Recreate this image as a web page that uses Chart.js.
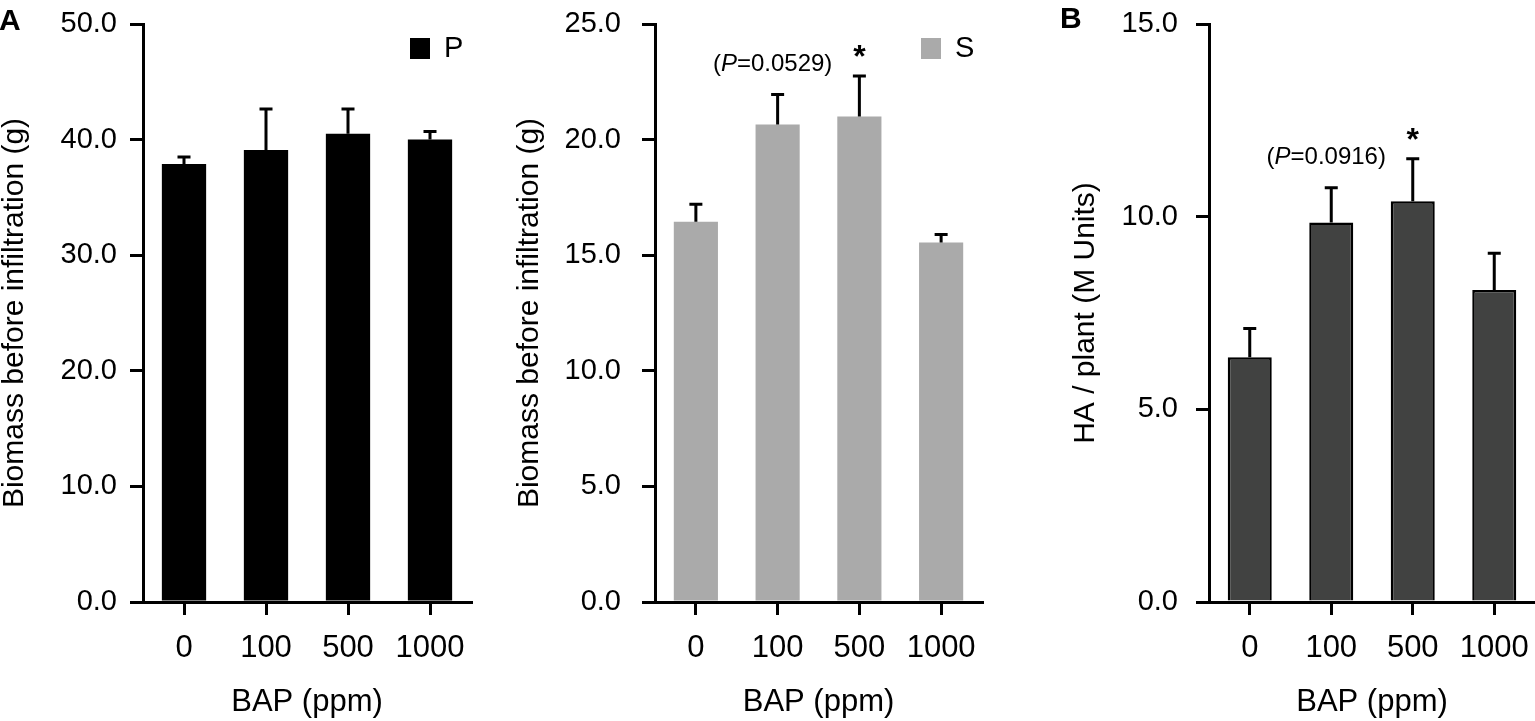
<!DOCTYPE html>
<html>
<head>
<meta charset="utf-8">
<script src="https://cdn.jsdelivr.net/npm/chart.js@4.4.1/dist/chart.umd.min.js"></script>
<style>
    html, body { margin: 0; padding: 0; background: #fff; }
    #wrap {
        position: relative;
        width: 1535px;
        height: 721px;
        overflow: hidden;
        font-family: "Liberation Sans", Arial, sans-serif;
    }
    .panel { position: absolute; top: 0; height: 721px; }
    .letter {
        position: absolute;
        z-index: 5;
        font-family: "Liberation Sans", Arial, sans-serif;
        font-weight: bold;
        font-size: 30px;
        line-height: 30px;
        color: #000;
    }
</style>
</head>
<body>
<div id="wrap">
    <div class="panel" style="left:0;width:490px"><canvas id="chartP"></canvas></div>
    <div class="panel" style="left:500px;width:500px"><canvas id="chartS"></canvas></div>
    <div class="panel" style="left:1050px;width:485px"><canvas id="chartHA"></canvas></div>
    <div class="letter" style="left:-1px;top:5px">A</div>
    <div class="letter" style="left:1060px;top:3px">B</div>
</div>

<script>
    // dati
    const categories = ['0', '100', '500', '1000'];

    const biomassP = [37.9, 39.1, 40.5, 40.0];
    const biomassPErr = [0.6, 3.55, 2.15, 0.7];

    const biomassS = [16.45, 20.65, 21.0, 15.55];
    const biomassSErr = [0.75, 1.3, 1.75, 0.35];
    const pValuesS = ['', '0.0529', '', ''];
    const starsS = ['', '', '*', ''];

    const haPlant = [6.35, 9.85, 10.4, 8.1];
    const haPlantErr = [0.75, 0.9, 1.1, 0.95];
    const pValuesHA = ['', '0.0916', '', ''];
    const starsHA = ['', '', '*', ''];

    const FONT = '"Liberation Sans", Arial, sans-serif';

    // barre di errore (solo verso l'alto)
    const errorBars = {
        id: 'errorBars',
        afterDatasetsDraw(chart) {
            const ctx = chart.ctx;
            const y = chart.scales.y;
            chart.data.datasets.forEach((ds, i) => {
                chart.getDatasetMeta(i).data.forEach((bar, j) => {
                    const top = y.getPixelForValue(ds.data[j] + ds.errors[j]);
                    ctx.save();
                    ctx.strokeStyle = '#000';
                    ctx.lineWidth = 3;
                    ctx.beginPath();
                    ctx.moveTo(bar.x, bar.y);
                    ctx.lineTo(bar.x, top);
                    ctx.moveTo(bar.x - 6.5, top);
                    ctx.lineTo(bar.x + 6.5, top);
                    ctx.stroke();
                    ctx.restore();
                });
            });
        }
    };

    // (P=...) e asterischi sopra le barre
    const marks = {
        id: 'marks',
        afterDatasetsDraw(chart, args, opts) {
            if (!opts.pValues) return;
            const ctx = chart.ctx;
            const y = chart.scales.y;
            const ds = chart.data.datasets[0];
            chart.getDatasetMeta(0).data.forEach((bar, j) => {
                const top = y.getPixelForValue(ds.data[j] + ds.errors[j]);
                ctx.save();
                ctx.fillStyle = '#000';
                ctx.textBaseline = 'middle';
                if (opts.pValues[j]) {
                    const parts = [
                        ['(', ''],
                        ['P', 'italic '],
                        ['=' + opts.pValues[j] + ')', '']
                    ];
                    let w = 0;
                    parts.forEach(p => { ctx.font = p[1] + '24px ' + FONT; w += ctx.measureText(p[0]).width; });
                    let x = bar.x - 5 - w / 2;
                    const cy = top - 30;
                    ctx.textAlign = 'left';
                    parts.forEach(p => {
                        ctx.font = p[1] + '24px ' + FONT;
                        ctx.fillText(p[0], x, cy);
                        x += ctx.measureText(p[0]).width;
                    });
                }
                if (opts.stars[j]) {
                    ctx.font = 'bold 32px ' + FONT;
                    ctx.textAlign = 'center';
                    ctx.textBaseline = 'alphabetic';
                    ctx.fillText(opts.stars[j], bar.x, top - 27 + 18);
                }
                ctx.restore();
            });
        }
    };

    // piccola legenda in alto a destra
    const keyBox = {
        id: 'keyBox',
        afterDraw(chart, args, opts) {
            if (!opts.label) return;
            const ctx = chart.ctx;
            const a = chart.chartArea;
            const x = a.right - 61;
            const top = a.top + 14;
            ctx.save();
            ctx.fillStyle = opts.color;
            ctx.fillRect(x, top, 20, 21);
            ctx.fillStyle = '#000';
            ctx.font = '29px ' + FONT;
            ctx.textAlign = 'left';
            ctx.textBaseline = 'middle';
            ctx.fillText(opts.label, x + 34, top + 11);
            ctx.restore();
        }
    };

    function makeChart(id, cfg) {
        return new Chart(document.getElementById(id), {
            type: 'bar',
            data: {
                labels: categories,
                datasets: [{
                    data: cfg.values,
                    errors: cfg.errors,
                    backgroundColor: cfg.color,
                    borderColor: '#000',
                    borderWidth: cfg.border,
                    barPercentage: 0.54,
                    categoryPercentage: 1
                }]
            },
            options: {
                responsive: true,
                maintainAspectRatio: false,
                animation: false,
                layout: { padding: { top: 24, right: cfg.right, left: 0, bottom: 0 } },
                plugins: {
                    legend: { display: false },
                    tooltip: { enabled: false },
                    keyBox: { label: cfg.key, color: cfg.color },
                    marks: { pValues: cfg.pValues, stars: cfg.stars }
                },
                scales: {
                    x: {
                        grid: { display: true, drawOnChartArea: false, offset: false, tickLength: 13, lineWidth: 3, color: '#000' },
                        border: { display: true, color: '#000', width: 3 },
                        ticks: { color: '#000', font: { family: FONT, size: 31 }, padding: 15 },
                        title: {
                            display: true, text: 'BAP (ppm)', color: '#000',
                            font: { family: FONT, size: 31, lineHeight: 1 },
                            padding: { top: 0, bottom: 3 }
                        },
                        afterFit: s => {
                            s.height = 119;
                            s.paddingLeft = 0;
                            s.paddingRight = 0;
                        }
                    },
                    y: {
                        min: 0,
                        max: cfg.max,
                        ticks: {
                            stepSize: cfg.step, color: '#000', padding: cfg.tickPad,
                            font: { family: FONT, size: 29 },
                            callback: v => v.toFixed(1)
                        },
                        grid: { drawOnChartArea: false, tickLength: 13, lineWidth: 3, color: '#000' },
                        border: { display: true, color: '#000', width: 3 },
                        title: {
                            display: true, text: cfg.title, color: '#000',
                            font: { family: FONT, size: 30, lineHeight: 1 },
                            padding: { top: cfg.titlePad, bottom: 0 }
                        },
                        afterFit: s => {
                            s.width = cfg.yWidth;
                            s.paddingTop = 0;
                            s.paddingBottom = 0;
                        }
                    }
                }
            },
            plugins: [errorBars, marks, keyBox]
        });
    }

    makeChart('chartP', {
        values: biomassP, errors: biomassPErr, color: '#000000', border: 0,
        max: 50, step: 10, title: 'Biomass before infiltration (g)',
        yWidth: 143, right: 19, tickPad: 13, titlePad: 0, key: 'P'
    });

    makeChart('chartS', {
        values: biomassS, errors: biomassSErr, color: '#aaaaaa', border: 0,
        max: 25, step: 5, title: 'Biomass before infiltration (g)',
        yWidth: 155, right: 18, tickPad: 21, titlePad: 15, key: 'S',
        pValues: pValuesS, stars: starsS
    });

    makeChart('chartHA', {
        values: haPlant, errors: haPlantErr, color: '#414241', border: 2.5,
        max: 15, step: 5, title: 'HA / plant (M Units)',
        yWidth: 159, right: 0, tickPad: 18, titlePad: 21,
        pValues: pValuesHA, stars: starsHA
    });
</script>
</body>
</html>
